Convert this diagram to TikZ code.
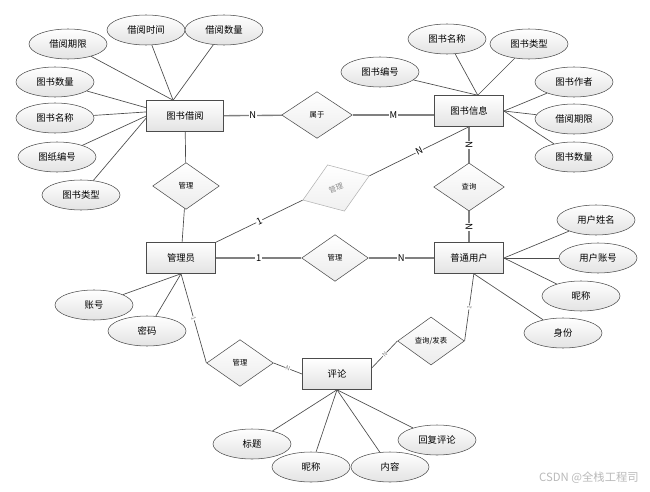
\documentclass[tikz,border=0pt]{standalone}
\usepackage{fontspec}
\setmainfont{Noto Sans CJK SC}
\usetikzlibrary{shapes.geometric}
\begin{document}
\begin{tikzpicture}[x=0.75pt,y=-0.75pt,
                    entity/.style={rectangle,draw=gray!60!black,top color=white,bottom color=gray!22,minimum width=52pt,minimum height=23.25pt,inner sep=1pt,font=\fontsize{7}{8}\selectfont},
                    attr/.style={ellipse,draw=gray!60!black,top color=white,bottom color=gray!22,minimum width=58.5pt,minimum height=22.5pt,inner sep=0pt,font=\fontsize{7}{8}\selectfont},
                    rel/.style={diamond,draw=gray!60!black,top color=white,bottom color=gray!15,minimum width=50pt,minimum height=35pt,inner sep=0pt,font=\fontsize{5.5}{6}\selectfont},
                    link/.style={draw=gray!60!black,line width=0.5pt},
                    main link/.style={draw=gray,line width=1pt},
                    card/.style={fill=white,inner sep=0.5pt,text=black,font=\fontsize{7}{8}\selectfont},
                    small card/.style={fill=white,inner sep=0.3pt,text=gray,font=\fontsize{4.5}{5}\selectfont}]
                    \useasboundingbox (0,0) rectangle (650,492);

                    \node[entity,minimum width=57.75pt] at (185,116) (jy) {图书借阅};
                    \node[entity] at (469,111) (xx) {图书信息};
                    \node[entity] at (181,258) (gly) {管理员};
                    \node[entity] at (469,258) (pt) {普通用户};
                    \node[entity] at (337,374) (pl) {评论};

                    \node[attr] at (68,44) (jy1) {借阅期限};
                    \node[attr] at (146,30) (jy2) {借阅时间};
                    \node[attr] at (224,30) (jy3) {借阅数量};
                    \node[attr] at (55,82) (jy4) {图书数量};
                    \node[attr] at (55,118) (jy5) {图书名称};
                    \node[attr] at (57,157) (jy6) {图纸编号};
                    \node[attr] at (81,195) (jy7) {图书类型};

                    \node[attr] at (380,72) (xx1) {图书编号};
                    \node[attr] at (447,39) (xx2) {图书名称};
                    \node[attr] at (529,44) (xx3) {图书类型};
                    \node[attr] at (574,82) (xx4) {图书作者};
                    \node[attr] at (574,119) (xx5) {借阅期限};
                    \node[attr] at (574,157) (xx6) {图书数量};

                    \node[attr] at (94,305) (gly1) {账号};
                    \node[attr] at (147,331) (gly2) {密码};

                    \node[attr] at (596,220) (pt1) {用户姓名};
                    \node[attr] at (598,258) (pt2) {用户账号};
                    \node[attr] at (581,296) (pt3) {昵称};
                    \node[attr] at (563,333) (pt4) {身份};

                    \node[attr] at (252,444) (pl1) {标题};
                    \node[attr] at (311,467) (pl2) {昵称};
                    \node[attr] at (390,467) (pl3) {内容};
                    \node[attr] at (437,440) (pl4) {回复评论};

                    \node[rel,minimum width=53pt] at (317,115) (sy) {属于};
                    \node[rel] at (186,186) (gl1) {管理};
                    \node[rel,minimum width=53pt,minimum height=37pt,rotate=20,draw=gray!60,bottom color=gray!12,text=gray!90] at (336,188) (gl2) {管理};
                    \node[rel,minimum width=53pt,minimum height=36pt] at (469,187) (cx) {查询};
                    \node[rel] at (335,258) (gl3) {管理};
                    \node[rel] at (240,363) (gl4) {管理};
                    \node[rel,minimum height=36pt] at (431,341) (cf) {查询/发表};

                    \path (jy1) edge[link] (jy.127);
                    \path (jy2) edge[link] (jy.127);
                    \path (jy3) edge[link] (jy.127);
                    \path (jy4) edge[link] (jy.168);
                    \path (jy5) edge[link] (jy.174);
                    \path (jy6) edge[link] (jy.180);
                    \path (jy7) edge[link] (jy.183);

                    \path (xx1) edge[link] (xx.61);
                    \path (xx2) edge[link] (xx.61);
                    \path (xx3) edge[link] (xx.61);
                    \path (xx4) edge[link] (xx.east);
                    \path (xx5) edge[link] (xx.east);
                    \path (xx6) edge[link] (xx.east);

                    \path (gly1) edge[link] (gly.south);
                    \path (gly2) edge[link] (gly.south);

                    \path (pt1) edge[link] (pt.east);
                    \path (pt2) edge[link] (pt.east);
                    \path (pt3) edge[link] (pt.east);
                    \path (pt4) edge[link] (pt.-73);

                    \path (pl1) edge[link] (pl.south);
                    \path (pl2) edge[link] (pl.south);
                    \path (pl3) edge[link] (pl.south);
                    \path (pl4) edge[link] (pl.south);

                    \path (jy) edge[main link] node[card] {N} (sy);
                    \path (sy.east) edge[main link] node[card] {M} (sy.east -| xx.west);
                    \path (jy) edge[link] (gl1);
                    \path (gl1) edge[link] (gly);
                    \path (gly.north east) edge[link] node[card,sloped] {1} (gl2.west);
                    \path (gl2.east) edge[link] node[card,sloped] {N} (xx.south);
                    \path (xx) edge[main link] node[card,sloped] {N} (cx);
                    \path (cx) edge[main link] node[card,sloped] {N} (pt);
                    \path (gly) edge[main link] node[card] {1} (gl3);
                    \path (gl3) edge[main link] node[card] {N} (pt);
                    \path (gly.south) edge[link] node[small card,sloped] {1} (gl4.west);
                    \path (gl4.east) edge[link] node[small card,sloped] {N} (pl.west);
                    \path (cf.west) edge[link] node[small card,sloped] {N} (pl.10);
                    \path (cf.east) edge[link] node[small card,sloped] {1} (pt.-73);

                    \node[text=gray!55,font=\fontsize{8.5}{9}\selectfont] at (589,478) (wm) {CSDN @全栈工程司};
                \end{tikzpicture}
\end{document}
